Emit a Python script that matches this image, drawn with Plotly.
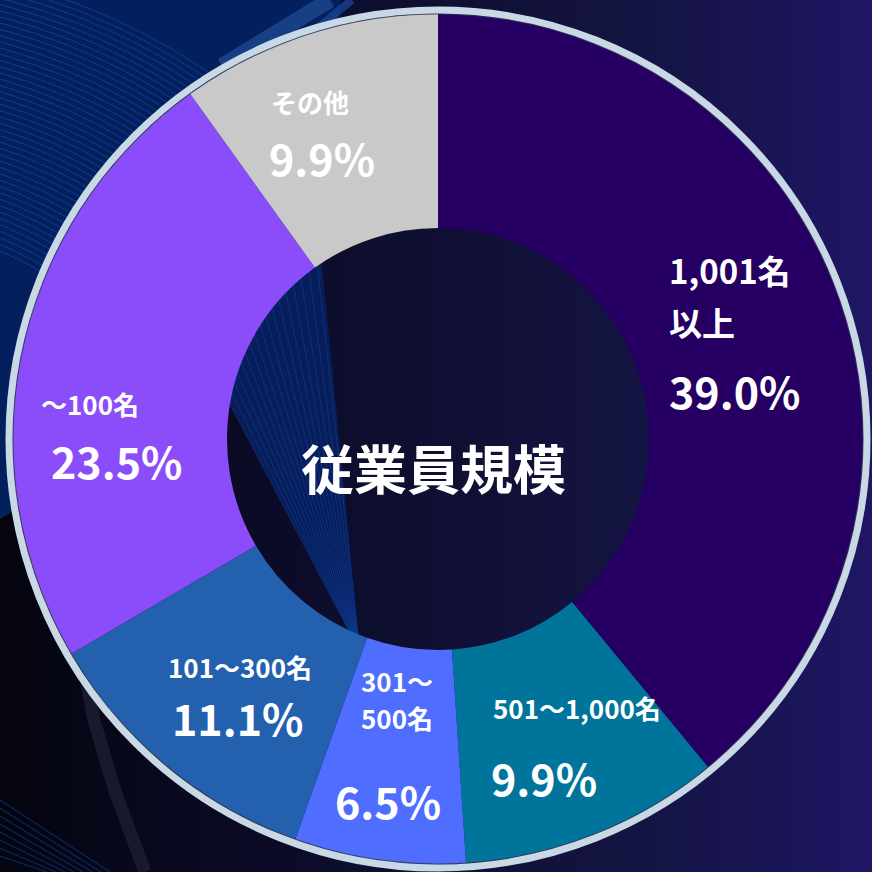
import numpy as np
import plotly.graph_objects as go

# ---- data -------------------------------------------------------------
categories = ["1,001名以上", "501～1,000名", "301～500名", "101～300名", "～100名", "その他"]
label_lines = [["1,001名", "以上"], ["501～1,000名"], ["301～", "500名"],
               ["101～300名"], ["～100名"], ["その他"]]
shares = [39.0, 9.9, 6.5, 11.1, 23.5, 9.9]
center_title = "従業員規模"

# ---- styling ----------------------------------------------------------
W = H = 872
slice_colors = ["#250062", "#00749a", "#4f6dff", "#2360ae", "#8b4cf9", "#c9c9c9"]
FONT = "Noto Sans CJK JP"
CX, CY = 438, 439          # pie centre (px, from top)
R_OUT, R_HOLE = 425, 211   # outer / hole radius (px)

# text placement (px) for each slice: category line centres, then the share
label_pos = [
    dict(lines=[(667, 270), (667, 322)], pct=(667, 390), anchor="left", size=33),
    dict(lines=[(577, 707)], pct=(544, 777), anchor="center", size=26),
    dict(lines=[(397, 680), (397, 717)], pct=(388, 800), anchor="center", size=26),
    dict(lines=[(240, 666)], pct=(238, 717), anchor="center", size=26),
    dict(lines=[(90, 403)], pct=(117, 460), anchor="center", size=26),
    dict(lines=[(310, 101)], pct=(322, 157), anchor="center", size=26),
]
PCT_SIZE = 43

fig = go.Figure()

# ---- background -------------------------------------------------------
fig.add_trace(go.Scatter(
    x=[0, W, W, 0, 0], y=[0, 0, H, H, 0], mode="lines", line=dict(width=0),
    fill="toself",
    fillgradient=dict(type="horizontal",
                      colorscale=[[0, "#04050e"], [0.26, "#0a0a24"],
                                  [0.73, "#141442"], [1, "#1e1664"]]),
    hoverinfo="skip", showlegend=False))

# navy sweep in the upper-left corner
t = np.linspace(-np.pi / 2, 0.2, 200)
bx = -300 + 643 * np.cos(t)
by = -50 - 643 * np.sin(t)
fig.add_trace(go.Scatter(
    x=np.r_[0, bx, 0], y=np.r_[0, by, 0], mode="lines", line=dict(width=0),
    fill="toself", fillcolor="#03205c", hoverinfo="skip", showlegend=False))

# fine streak arcs inside the navy sweep
for rad in range(380, 640, 6):
    a = np.linspace(-np.pi / 2, 0, 260)
    ax_ = -150 + rad * np.cos(a)
    ay_ = 600 + rad * np.sin(a)
    inside = (ax_ + 300) ** 2 + (ay_ + 50) ** 2 < 643 ** 2
    ax_ = np.where(inside, ax_, np.nan)
    ay_ = np.where(inside, ay_, np.nan)
    fig.add_trace(go.Scatter(x=ax_, y=ay_, mode="lines",
                             line=dict(color="rgba(22,78,185,0.6)", width=1),
                             hoverinfo="skip", showlegend=False))

# light diagonal bands near the top edge
fig.add_trace(go.Scatter(x=[222, 330], y=[66, 0], mode="lines",
                         line=dict(color="rgba(40,90,170,0.55)", width=16),
                         hoverinfo="skip", showlegend=False))
fig.add_trace(go.Scatter(x=[298, 352], y=[44, 0], mode="lines",
                         line=dict(color="rgba(30,80,170,0.6)", width=8),
                         hoverinfo="skip", showlegend=False))

# faint grey arc in the lower-left
ga = np.linspace(0, 1, 40)
fig.add_trace(go.Scatter(x=87 + 58 * ga ** 1.3, y=683 + 189 * ga, mode="lines",
                         line=dict(color="#181a2b", width=13),
                         hoverinfo="skip", showlegend=False))
# blue streaks in the lower-left corner
for k in range(8):
    fig.add_trace(go.Scatter(x=[0, 110 - k * 9], y=[800 + k * 8, 872], mode="lines",
                             line=dict(color="rgba(20,70,170,0.5)", width=1.2),
                             hoverinfo="skip", showlegend=False))

# fan of lines seen through the hole
fan_base = (360, 652)
fan_ang = np.linspace(np.radians(-167), np.radians(-122), 34)
fan_x = [fan_base[0]]
fan_y = [fan_base[1]]
for ang in fan_ang:
    fan_x += [CX + R_HOLE * 1.05 * np.cos(ang)]
    fan_y += [CY + R_HOLE * 1.05 * np.sin(ang)]
fan_x += [fan_base[0]]
fan_y += [fan_base[1]]
fig.add_trace(go.Scatter(x=fan_x, y=fan_y, mode="lines", line=dict(width=0),
                         fill="toself", fillcolor="rgba(8,34,100,0.85)",
                         hoverinfo="skip", showlegend=False))
for ang in fan_ang[::2]:
    fig.add_trace(go.Scatter(
        x=[fan_base[0], CX + R_HOLE * 1.05 * np.cos(ang)],
        y=[fan_base[1], CY + R_HOLE * 1.05 * np.sin(ang)], mode="lines",
        line=dict(color="rgba(20,70,170,0.6)", width=0.8),
        hoverinfo="skip", showlegend=False))

# ---- donut ------------------------------------------------------------
fig.add_trace(go.Pie(
    labels=categories, values=shares, sort=False, direction="clockwise",
    rotation=0, hole=R_HOLE / R_OUT,
    marker=dict(colors=slice_colors, line=dict(width=0)),
    textinfo="none", hoverinfo="skip", showlegend=False,
    domain=dict(x=[(CX - R_OUT) / W, (CX + R_OUT) / W],
                y=[(H - CY - R_OUT) / H, (H - CY + R_OUT) / H]),
))

# ---- labels -----------------------------------------------------------
annotations = []
for lines, val, pos in zip(label_lines, shares, label_pos):
    for txt, (lx, ly) in zip(lines, pos["lines"]):
        annotations.append(dict(x=lx, y=ly, xref="x", yref="y", text=f"<b>{txt}</b>",
                                showarrow=False, xanchor=pos["anchor"], yanchor="middle",
                                font=dict(family=FONT, size=pos["size"], color="white")))
    px_, py_ = pos["pct"]
    annotations.append(dict(x=px_, y=py_, xref="x", yref="y", text=f"<b>{val:.1f}%</b>",
                            showarrow=False, xanchor=pos["anchor"], yanchor="middle",
                            font=dict(family=FONT, size=PCT_SIZE, color="white")))
annotations.append(dict(x=433, y=467, xref="x", yref="y", text=f"<b>{center_title}</b>",
                        showarrow=False, xanchor="center", yanchor="middle",
                        font=dict(family=FONT, size=53, color="white")))

# ---- outer rim --------------------------------------------------------
RING = 429
shapes = [
    dict(type="circle", xref="x", yref="y", x0=CX - R_OUT, x1=CX + R_OUT,
         y0=CY - R_OUT, y1=CY + R_OUT, line=dict(color="rgba(60,60,90,0.7)", width=1.2)),
    dict(type="circle", xref="x", yref="y", x0=CX - RING, x1=CX + RING,
         y0=CY - RING, y1=CY + RING, line=dict(color="#c8d8e5", width=7)),
]

fig.update_layout(
    width=W, height=H, margin=dict(l=0, r=0, t=0, b=0),
    paper_bgcolor="#0b0b26", plot_bgcolor="rgba(0,0,0,0)",
    xaxis=dict(range=[0, W], visible=False, fixedrange=True, domain=[0, 1]),
    yaxis=dict(range=[H, 0], visible=False, fixedrange=True, domain=[0, 1]),
    annotations=annotations, shapes=shapes, showlegend=False,
)

fig.write_html("out.html")
